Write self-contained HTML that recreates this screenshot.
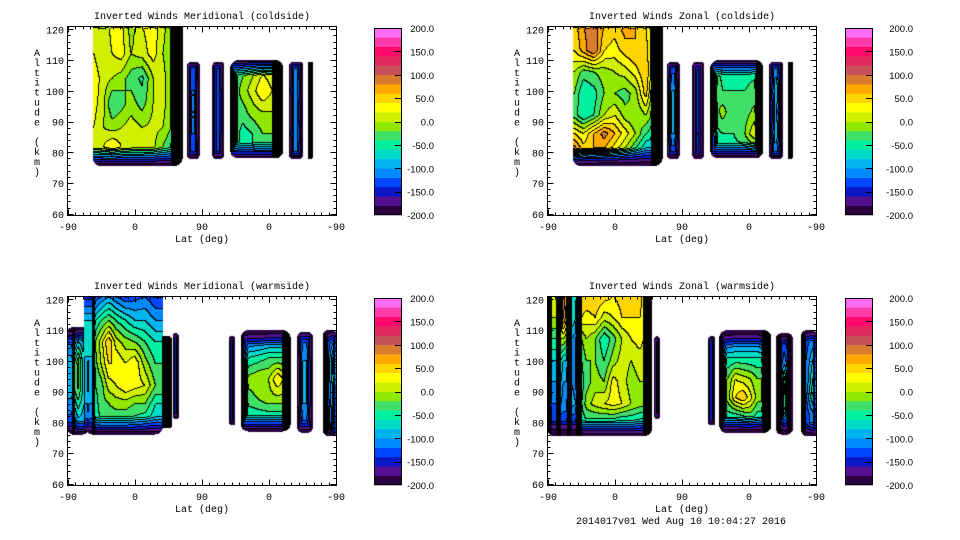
<!DOCTYPE html>
<html><head><meta charset="utf-8">
<style>
html,body{margin:0;padding:0;background:#fff;}
#root{position:relative;width:960px;height:540px;overflow:hidden;background:#fff;}
canvas{position:absolute;}
svg{position:absolute;left:0;top:0;}
text{font-family:"Liberation Mono","DejaVu Sans Mono",monospace;font-size:10px;fill:#000;}
text.cbl{font-family:"Liberation Sans","DejaVu Sans",sans-serif;font-size:9.5px;}
</style></head>
<body>
<div id="root">
<svg id="svg" width="960" height="540"></svg>
</div>
<script>
// ---------- colour scale ----------
const cbLevels = [-200,-180,-160,-140,-120,-100,-80,-60,-40,-20,0,20,40,60,80,100,120,140,160,180,200];
const cbTickLabels = ["200.0","150.0","100.0","50.0","0.0","-50.0","-100.0","-150.0","-200.0"];
const cbTickValues = [200,150,100,50,0,-50,-100,-150,-200];
const bandColors = ["#2a0040","#541090","#0a18c8","#0046ff","#0088ff","#00b4f0","#00dcc8","#00f0a0","#40e068","#90e800","#d0f000","#ffff00","#ffd400","#ffa800","#d87c30","#c85058","#e0285c","#ff0a6a","#ff3caa","#ff6cf4"];
const altTicks = [60,70,80,90,100,110,120];
const latTickLabels = ["-90","0","90","0","-90"];
const latTickU = [0,90,180,270,360];

// ---------- data: Meridional coldside ----------
const TL_A_cols=[35,48,60,72,85,100,115,128,139,141,150];
const TL_A_rows=[121,112,104,96,88,82,77];
const TL_A_vals=[
[10,0,30,30,-10,20,30,10,-20,-260,-260],
[20,0,20,30,0,10,30,0,-20,-260,-260],
[35,10,0,-10,-30,-45,0,10,-20,-260,-260],
[30,5,-40,-30,-10,-30,0,10,-20,-260,-260],
[20,0,-10,0,10,0,5,0,-20,-260,-260],
[10,20,40,20,10,5,5,-20,-40,-260,-260],
[-20,-20,-20,-30,-30,-30,-40,-60,-60,-260,-260]];
const TL_B_vals=[[-130],[-120],[-120],[-120],[-130]];
const TL_C_vals=[[-135],[-130],[-130],[-130],[-135]];
const TL_D_cols=[222,235,248,262,275,277,287];
const TL_D_rows=[108,100,93,86,80];
const TL_D_vals=[
[-40,-30,-10,10,0,-260,-260],
[-40,-10,10,40,20,-260,-260],
[-20,-30,-10,0,0,-260,-260],
[-20,-50,-40,-20,-20,-260,-260],
[-40,-40,-40,-40,-40,-260,-260]];
const TL_E_vals=[[-110],[-100],[-110],[-100],[-110]];
const TL_F_vals=[[-260]];

// ---------- data: Zonal coldside ----------
const TR_A_cols=[36,48,62,76,90,104,118,132,139,141,150];
const TR_A_rows=[121,113,106,99,92,86,81,77];
const TR_A_vals=[
[50,80,90,60,50,70,60,40,20,-260,-260],
[40,70,100,40,30,50,60,50,20,-260,-260],
[0,-30,-20,-10,0,10,30,60,20,-260,-260],
[-20,-60,-50,-20,-20,-30,-10,50,0,-260,-260],
[-30,-60,-40,0,20,-10,-20,0,-20,-260,-260],
[40,20,60,90,60,30,0,-40,-50,-260,-260],
[90,50,60,60,30,0,-40,-80,-80,-260,-260],
[-40,-60,-60,-80,-80,-90,-100,-110,-110,-260,-260]];
const TR_B_vals=[[-130],[-100],[-100],[-100],[-130]];
const TR_C_vals=[[-140],[-140],[-140],[-140],[-140]];
const TR_D_cols=[222,235,250,265,281,283,288];
const TR_D_rows=[108,100,93,86,80];
const TR_D_vals=[
[-40,-50,-50,-50,-50,-260,-260],
[0,-40,-40,-40,-30,-260,-260],
[-40,-10,-40,-30,-10,-260,-260],
[-50,-40,-40,-20,30,-260,-260],
[-50,-50,-50,-50,-40,-260,-260]];
const TR_E_vals=[[-110],[-90],[-100],[-90],[-110]];
const TR_F_vals=[[-260]];

// ---------- data: Meridional warmside ----------
const BL_A1_cols=[2,6,8,10,14,20,23,25,27];
const BL_A1_rows=[110,100,90,80];
const BL_A1_vals=[
[-150,-150,-300,-150,-120,-120,-130,-300,-130],
[-90,-90,-300,-40,-10,-60,-70,-300,-80],
[-90,-90,-300,-40,-20,-60,-70,-300,-80],
[-130,-130,-300,-110,-90,-90,-100,-300,-110]];
const BL_A2_cols=[26,33,35,37,45,55,65,78,90,104,118];
const BL_A2_rows=[121,113,106,99,92,86,80];
const BL_A2_vals=[
[-150,-150,-300,-140,-120,-100,-120,-140,-130,-120,-140],
[-80,-80,-300,-60,-40,-20,-40,-60,-80,-80,-100],
[-60,-60,-300,-20,10,60,10,-10,-20,-40,-60],
[-90,-90,-300,-30,0,40,40,20,40,-10,-40],
[-90,-90,-300,-40,-30,10,20,40,30,20,-20],
[-100,-100,-300,-50,-30,-20,-10,-10,-20,-20,-60],
[-110,-110,-300,-50,-40,-40,-40,-40,-50,-60,-80]];
const BL_A3_cols=[120,126,132];
const BL_A3_vals=[[-80,-260,-260]];
const BL_B_vals=[[-150]];
const BL_C_vals=[[-150]];
const BL_D_cols=[233,237,245,258,270,282,289,291,295];
const BL_D_rows=[108,101,94,87,81];
const BL_D_vals=[
[-260,-150,-140,-140,-130,-130,-130,-260,-260],
[-260,-60,-60,-50,-40,-40,-40,-260,-260],
[-260,-10,-10,0,0,40,20,-260,-260],
[-260,-30,-30,-20,-10,-10,-10,-260,-260],
[-260,-60,-60,-60,-60,-60,-60,-260,-260]];
const BL_E_vals=[[-120],[-100],[-100],[-100],[-120]];
const BL_F_cols=[344,350,356,360];
const BL_F_rows=[108,100,90,82];
const BL_F_vals=[[-260,-140,-120,-120],[-260,-120,-60,20],[-260,-120,-80,-40],[-260,-150,-80,-40]];

// ---------- data: Zonal warmside ----------
const BR_A_cols=[0,2,5,12,15,18,21,26,29,32,38,42,46,52,64,76,88,100,112,124,129,131];
const BR_A_rows=[121,114,107,100,93,86,81,77];
const BR_A_vals=[
[-300,-300,20,20,-300,40,90,60,-300,-60,-60,-300,60,60,60,50,40,50,60,50,30,-260],
[-300,-300,0,0,-300,30,90,40,-300,-60,-80,-300,40,30,40,10,20,40,40,40,30,-260],
[-300,-300,-40,-40,-300,0,0,-20,-300,-100,-110,-300,-20,0,-20,-60,-30,0,20,30,20,-260],
[-300,-300,-80,-80,-300,-60,-80,-80,-300,-110,-120,-300,-40,-20,-20,-40,-10,10,0,10,0,-260],
[-300,-300,-100,-100,-300,-80,-100,-100,-300,-100,-110,-300,-50,-30,-10,-20,30,10,-10,0,0,-260],
[-300,-300,-120,-120,-300,-100,-110,-110,-300,-90,-100,-300,-40,-10,10,20,30,20,0,-10,-10,-260],
[-300,-300,-130,-130,-300,-130,-130,-130,-300,-130,-130,-300,-50,-40,-40,-40,-40,-50,-50,-60,-60,-260],
[-300,-300,-150,-150,-300,-150,-150,-150,-300,-150,-150,-300,-80,-70,-70,-70,-70,-70,-70,-80,-80,-260]];
const BR_B_vals=[[-150]];
const BR_C_vals=[[-150]];
const BR_D_cols=[232,236,242,252,262,272,282,288,291,300];
const BR_D_rows=[108,101,94,88,82,78];
const BR_D_vals=[
[-260,-150,-150,-140,-140,-140,-140,-150,-260,-260],
[-260,-60,-60,-60,-60,-60,-60,-60,-260,-260],
[-260,-20,-20,20,10,0,-20,-20,-260,-260],
[-260,-10,-10,40,60,30,-10,-10,-260,-260],
[-260,-50,-50,-50,-40,-30,-50,-50,-260,-260],
[-260,-90,-90,-90,-90,-90,-90,-90,-260,-260]];
const BR_E_cols=[307,311,314,318,322,325,329];
const BR_E_rows=[107,100,92,85,79];
const BR_E_vals=[
[-120,-260,-150,-130,-150,-260,-120],
[-120,-260,-130,-110,-130,-260,-120],
[-120,-260,-100,-30,-100,-260,-120],
[-120,-260,-110,-40,-110,-260,-120],
[-140,-260,-150,-140,-150,-260,-140]];
const BR_F_cols=[342,347,352,360];
const BR_F_rows=[108,100,90,82];
const BR_F_vals=[[-260,-140,-120,-120],[-260,-120,-100,-60],[-260,-120,-80,-20],[-260,-140,-120,-100]];

const ALT_TOP=120.75, ALT_BOT=59.6;
const UNIF_ROWS5=[108,100,93,86,80];

function blk(u0,u1,a0,a1,rx,ry,cols,rows,vals){return {u0,u1,a0,a1,rx,ry,cols:cols||[(u0+u1)/2],rows:rows||(vals.length===5?UNIF_ROWS5:[(a0+a1)/2]),vals};}

const panels=[
 {id:"meridional-coldside",title:"Inverted Winds Meridional (coldside)",px:68,py:27,cbx:374,lblR:434,
  blocks:[blk(33,154,75.5,126,0,18,TL_A_cols,TL_A_rows,TL_A_vals),blk(160,177,77.8,109.5,5,8,null,null,TL_B_vals),
  blk(194,210,77.8,109.5,5,8,null,null,TL_C_vals),blk(218,289,78,110,8,16,TL_D_cols,TL_D_rows,TL_D_vals),
  blk(297,316,77.8,109.5,6,8,null,null,TL_E_vals),blk(322,329,77.8,109.5,0,4,null,null,TL_F_vals)]},
 {id:"zonal-coldside",title:"Inverted Winds Zonal (coldside)",px:548,py:27,cbx:845,lblR:913,
  blocks:[blk(33,154,75.5,126,0,18,TR_A_cols,TR_A_rows,TR_A_vals),blk(160,177,77.8,109.5,5,8,null,null,TR_B_vals),
  blk(194,210,77.8,109.5,5,8,null,null,TR_C_vals),blk(218,289,78,110,8,16,TR_D_cols,TR_D_rows,TR_D_vals),
  blk(297,316,77.8,109.5,6,8,null,null,TR_E_vals),blk(322,329,77.8,109.5,0,4,null,null,TR_F_vals)]},
 {id:"meridional-warmside",title:"Inverted Winds Meridional (warmside)",px:68,py:297,cbx:374,lblR:434,
  blocks:[blk(-2,28,76,111,0,14,BL_A1_cols,BL_A1_rows,BL_A1_vals),blk(22,128,76,126,0,18,BL_A2_cols,BL_A2_rows,BL_A2_vals),
  blk(116,140,78,108,3,8,BL_A3_cols,null,BL_A3_vals),blk(141,149,81,109,3,6,null,null,BL_B_vals),
  blk(216,225,79,108,3,6,null,null,BL_C_vals),blk(232,299,77,110,8,16,BL_D_cols,BL_D_rows,BL_D_vals),
  blk(308,329,76.5,109.5,6,12,null,null,BL_E_vals),blk(342,362,75.5,110,4,12,BL_F_cols,BL_F_rows,BL_F_vals)]},
 {id:"zonal-warmside",title:"Inverted Winds Zonal (warmside)",px:548,py:297,cbx:845,lblR:913,
  blocks:[blk(-2,140,75.5,126,0,16,BR_A_cols,BR_A_rows,BR_A_vals),
  blk(143,150,81,108,3,6,null,null,BR_B_vals),
  blk(215,225,79,108,3,6,null,null,BR_C_vals),blk(230,300,76.5,110,8,16,BR_D_cols,BR_D_rows,BR_D_vals),
  blk(306,329,76,109,4,12,BR_E_cols,BR_E_rows,BR_E_vals),blk(340,362,75.5,110,4,12,BR_F_cols,BR_F_rows,BR_F_vals)]}
];

const W=268,H=188;
function xU(u){return u/360*W;}
function yA(a){return (ALT_TOP-a)/(ALT_TOP-ALT_BOT)*H;}

function interp1(arr,v,desc){
  const n=arr.length; if(n===1) return [0,0];
  if(!desc){ if(v<=arr[0]) return [0,0]; if(v>=arr[n-1]) return [n-2,1];
    for(let i=0;i<n-1;i++) if(v<=arr[i+1]) return [i,(v-arr[i])/(arr[i+1]-arr[i])]; }
  else { if(v>=arr[0]) return [0,0]; if(v<=arr[n-1]) return [n-2,1];
    for(let i=0;i<n-1;i++) if(v>=arr[i+1]) return [i,(arr[i]-v)/(arr[i]-arr[i+1])]; }
  return [0,0];
}
function sample(b,u,a){
  const nc=b.vals[0].length, nr=b.vals.length;
  const cols=b.cols.length===nc?b.cols:[(b.u0+b.u1)/2];
  const rows=b.rows.length===nr?b.rows:[(b.a0+b.a1)/2];
  const [ci,ct]=interp1(cols,u,false), [ri,rt]=interp1(rows,a,true);
  const g=(r,c)=>b.vals[Math.min(r,nr-1)][Math.min(c,nc-1)];
  const v00=g(ri,ci),v01=g(ri,ci+1),v10=g(ri+1,ci),v11=g(ri+1,ci+1);
  return (v00*(1-ct)+v01*ct)*(1-rt)+(v10*(1-ct)+v11*ct)*rt;
}
function bandOf(v){ if(v<-200) return -1; let k=Math.floor((v+200)/20); return Math.max(0,Math.min(19,k)); }
function hex(c){return [parseInt(c.substr(1,2),16),parseInt(c.substr(3,2),16),parseInt(c.substr(5,2),16)];}
const bandRGB=bandColors.map(hex);

const svg=document.getElementById('svg');
const NS="http://www.w3.org/2000/svg";
function mk(tag,parent){const e=document.createElementNS(NS,tag);parent.appendChild(e);return e;}

panels.forEach(p=>{
  const cv=document.createElement('canvas');
  cv.width=W;cv.height=H;cv.style.left=p.px+'px';cv.style.top=p.py+'px';
  
  
  document.getElementById('root').insertBefore(cv,svg);
  const band=new Int8Array(W*H).fill(-2);
  for(let j=0;j<H;j++){for(let i=0;i<W;i++){
    const u=(i+0.5)/W*360, a=ALT_TOP-(j+0.5)/H*(ALT_TOP-ALT_BOT);
    const x=i+0.5,y=j+0.5;
    let best=null;
    p.blocks.forEach(b=>{
      const x0=xU(b.u0),x1=xU(b.u1),y0=yA(b.a1),y1=yA(b.a0);
      const cx=(x0+x1)/2,cy=(y0+y1)/2,hx=(x1-x0)/2,hy=(y1-y0)/2;
      const rc=Math.min(Math.max(b.rx,b.ry)*0.5,hx,hy);
      const qx=Math.abs(x-cx)-(hx-rc),qy=Math.abs(y-cy)-(hy-rc);
      const sd=Math.hypot(Math.max(qx,0),Math.max(qy,0))+Math.min(Math.max(qx,qy),0)-rc;
      if(sd<0){
        const dx=hx-Math.abs(x-cx), dy=hy-Math.abs(y-cy);
        let t=Math.min(1,dy/Math.min(b.ry,hy));
        if(b.rx>0) t=Math.min(t,dx/Math.min(b.rx,hx));
        t=Math.max(0,t);
        const v=sample(b,u,a);
        const val=v<-199?v:-199+(v+199)*t;
        if(best===null||val>best) best=val;
      }
    });
    if(best!==null) band[j*W+i]=bandOf(best);
  }}
  const ctx=cv.getContext('2d');const img=ctx.createImageData(W,H);
  for(let j=0;j<H;j++){for(let i=0;i<W;i++){
    const k=band[j*W+i];const o=(j*W+i)*4;
    if(k===-2){img.data[o+3]=0;continue;}
    let rgb=k<0?[0,0,0]:bandRGB[k];
    const kr=i<W-1?band[j*W+i+1]:-2, kd=j<H-1?band[(j+1)*W+i]:-2;
    if((kr!==-2&&kr!==k)||(kd!==-2&&kd!==k)) rgb=[0,0,0];
    img.data[o]=rgb[0];img.data[o+1]=rgb[1];img.data[o+2]=rgb[2];img.data[o+3]=255;
  }}
  ctx.putImageData(img,0,0);

  const g=mk('g',svg);
  
  
  const L=p.px-0.5,T=p.py-0.5,R=p.px+W+0.5,B=p.py+H+0.5;
  const box=mk('rect',g);
  box.setAttribute('x',L);box.setAttribute('y',T);box.setAttribute('width',R-L);box.setAttribute('height',B-T);
  box.setAttribute('fill','none');box.setAttribute('stroke','#000');box.setAttribute('stroke-width','1');
  
  
  let d="";
  for(let a=60;a<=120;a+=2){const y=Math.round(p.py+yA(a))+0.5;const len=(a%10===0)?6:3;
    d+=`M${L} ${y}h${len}M${R} ${y}h${-len}`;}
  for(let u=0;u<=360;u+=10){const x=Math.round(p.px+xU(u))+0.5;const len=(u%90===0)?6:3;
    d+=`M${x} ${B}v${-len}M${x} ${T}v${len}`;}
  const ticks=mk('path',g);ticks.setAttribute('d',d);ticks.setAttribute('stroke','#000');ticks.setAttribute('stroke-width','1');
  
  
  altTicks.forEach(a=>{
    const t=mk('text',g);t.textContent=String(a);
    t.setAttribute('x',p.px-4);t.setAttribute('y',p.py+yA(a)+4);t.setAttribute('text-anchor','end');
    
    
  });
  latTickU.forEach((u,i)=>{
    const t=mk('text',g);t.textContent=latTickLabels[i];
    t.setAttribute('x',p.px+xU(u));t.setAttribute('y',p.py+H+15);t.setAttribute('text-anchor','middle');
    
    
  });
  const xt=mk('text',g);xt.textContent="Lat (deg)";xt.setAttribute('x',p.px+W/2);xt.setAttribute('y',p.py+H+27);xt.setAttribute('text-anchor','middle');
  
  
  const tt=mk('text',g);tt.textContent=p.title;tt.setAttribute('x',p.px+W/2);tt.setAttribute('y',p.py-8);tt.setAttribute('text-anchor','middle');
  
  
  const yl=mk('text',g);yl.setAttribute('text-anchor','middle');
  
  
  "Altitude (km)".split("").forEach((ch,i)=>{
    const s=mk('tspan',yl);s.textContent=ch===" "?"\u00a0":ch;s.setAttribute('x',p.px-31);s.setAttribute('y',p.py+29+i*9.9);
  });

  const cg=mk('g',svg);
  
  
  const cbT=p.py+1,cbB=p.py+H,cbW=28,cbH=cbB-cbT;
  const cy=v=>cbT+(200-v)/400*cbH;
  for(let k=0;k<20;k++){
    const r=mk('rect',cg);
    r.setAttribute('x',p.cbx);r.setAttribute('y',cy(cbLevels[k+1]));r.setAttribute('width',cbW);r.setAttribute('height',cy(cbLevels[k])-cy(cbLevels[k+1])+0.3);
    r.setAttribute('fill',bandColors[k]);
    
    
  }
  const cf=mk('rect',cg);cf.setAttribute('x',p.cbx+0.5);cf.setAttribute('y',cbT+0.5);cf.setAttribute('width',cbW-1);cf.setAttribute('height',cbH-1);
  cf.setAttribute('fill','none');cf.setAttribute('stroke','#000');
  
  
  let cd="";
  cbTickValues.forEach((v,i)=>{
    const y=Math.round(cy(v))+0.5;
    if(i>0&&i<cbTickValues.length-1) cd+=`M${p.cbx+cbW} ${y}h-7`;
    const t=mk('text',cg);t.textContent=cbTickLabels[i];
    t.setAttribute('class','cbl');
    t.setAttribute('x',p.lblR);t.setAttribute('y',cy(v)+4);t.setAttribute('text-anchor','end');
    
    
  });
  const ct=mk('path',cg);ct.setAttribute('d',cd);ct.setAttribute('stroke','#000');
  
  
});
const foot=mk('text',svg);foot.textContent="2014017v01 Wed Aug 10 10:04:27 2016";
foot.setAttribute('x',681);foot.setAttribute('y',524);foot.setAttribute('text-anchor','middle');


</script>
</body></html>
